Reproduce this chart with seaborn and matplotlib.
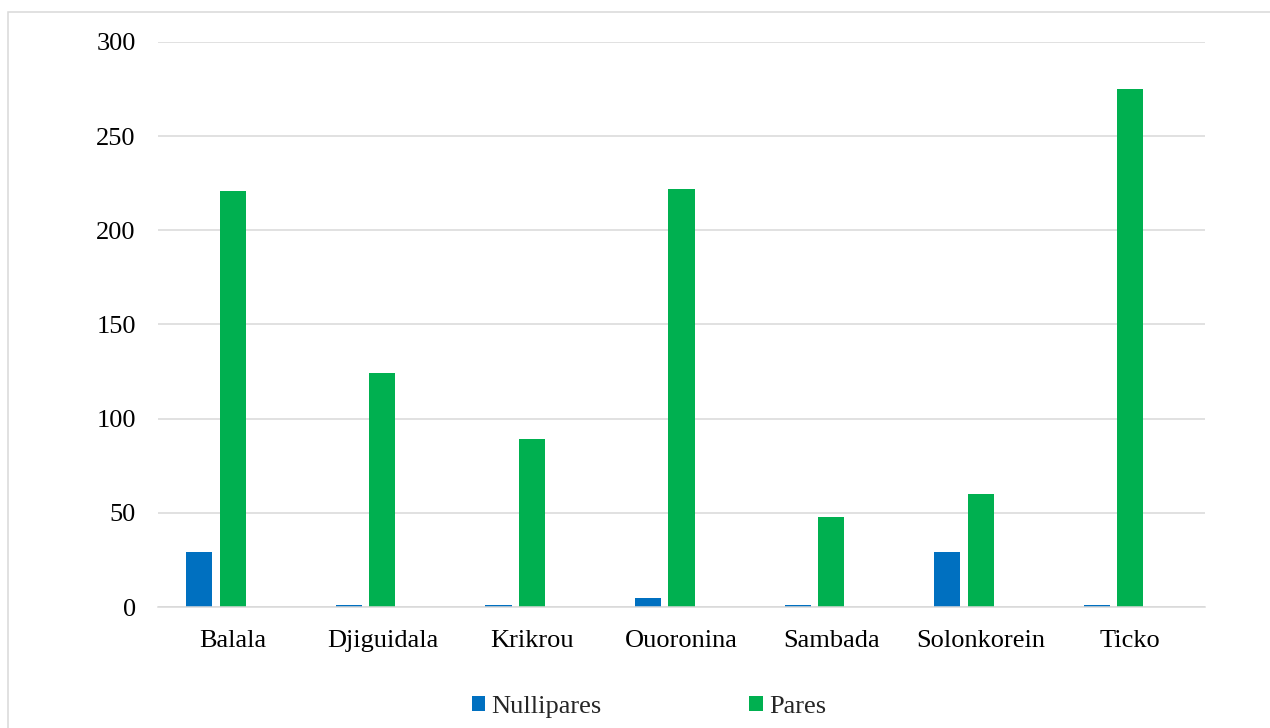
import matplotlib
matplotlib.use("Agg")
import matplotlib.pyplot as plt
import matplotlib.patches as mpatches
import seaborn as sns
import pandas as pd

categories = ["Balala", "Djiguidala", "Krikrou", "Ouoronina", "Sambada", "Solonkorein", "Ticko"]
nullipares = [29, 1, 1, 5, 1, 29, 1]
pares = [221, 124, 89, 222, 48, 60, 275]
third = [0, 0, 0, 0, 0, 0, 0]
series_names = ["Nullipares", "Pares", " "]
yticks = [0, 50, 100, 150, 200, 250, 300]

rows = []
for name, vals in zip(series_names, [nullipares, pares, third]):
    for c, v in zip(categories, vals):
        rows.append({"Lieu": c, "Groupe": name, "Valeur": v})
df = pd.DataFrame(rows)

sns.set_theme(style="white")
plt.rcParams["font.family"] = ["Liberation Serif", "DejaVu Serif"]

W, H = 1270, 728
fig = plt.figure(figsize=(W / 100, H / 100), dpi=100)
ax = fig.add_axes([158 / W, 1 - 607 / H, (1205 - 158) / W, (607 - 42) / H])

palette = {"Nullipares": "#0070C0", "Pares": "#00B050", " ": "#A5A5A5"}
sns.barplot(data=df, x="Lieu", y="Valeur", hue="Groupe", hue_order=series_names,
            order=categories, palette=palette, width=0.67, gap=0.22,
            linewidth=0, saturation=1, ax=ax, legend=True, errorbar=None)

ax.set_ylim(0, 300)
ax.set_xlim(-0.5, len(categories) - 0.5)
ax.set_yticks(yticks)
ax.set_yticklabels([str(t) for t in yticks])
ax.yaxis.grid(True, color="#d9d9d9", linewidth=1.1)
ax.set_axisbelow(True)
for s in ["left", "right", "top"]:
    ax.spines[s].set_visible(False)
ax.spines["bottom"].set_color("#d9d9d9")
ax.spines["bottom"].set_linewidth(1.1)
ax.tick_params(axis="both", length=0, labelsize=19, colors="black")
ax.tick_params(axis="y", pad=16)
ax.tick_params(axis="x", pad=16.5)
ax.set_xlabel("")
ax.set_ylabel("")

handles, labels = ax.get_legend_handles_labels()
ax.get_legend().remove()
fig.legend(handles[:2], labels[:2], loc="center", bbox_to_anchor=(649 / W, 1 - 707 / H),
           ncol=2, frameon=False, fontsize=19, handlelength=0.5, handleheight=0.5,
           handletextpad=0.25, columnspacing=5.6)

border = mpatches.Rectangle((8 / W, -0.1), 1.2, 1 - 12 / H + 0.1, transform=fig.transFigure,
                            fill=False, edgecolor="#d9d9d9", linewidth=1.1)
fig.patches.append(border)

fig.savefig("out.png", dpi=100, facecolor="white")
